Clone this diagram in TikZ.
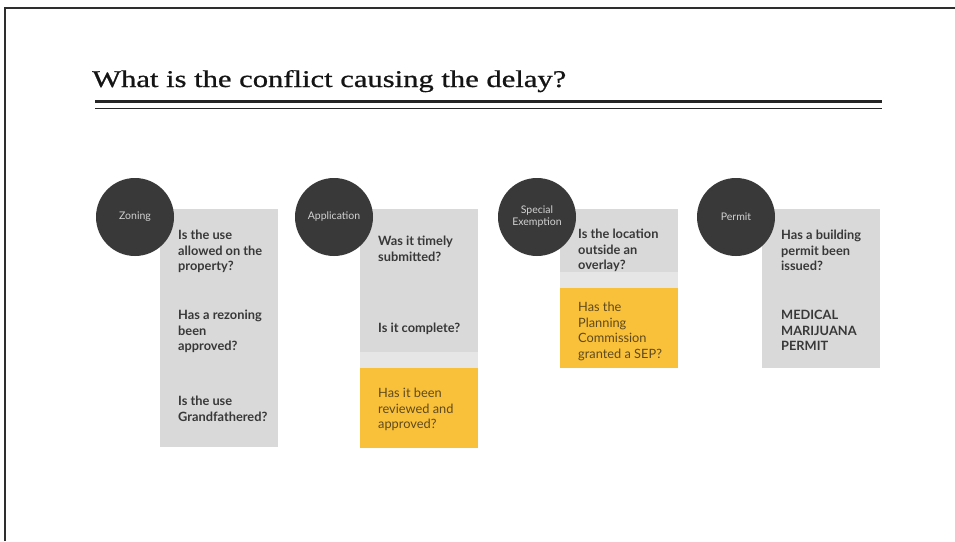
\documentclass[tikz,border=0pt]{standalone}
\usepackage{fontspec}
\usepackage{graphicx}
\setmainfont{Liberation Serif}
\newfontfamily\titlefont[FakeBold=0.7]{Liberation Serif}
\newfontfamily\qfont{Lato}
\definecolor{framegray}{HTML}{2E2E2E}
\definecolor{circfill}{HTML}{393939}
\definecolor{circtext}{HTML}{D2D2D2}
\definecolor{boxgray}{HTML}{D9D9D9}
\definecolor{bandgray}{HTML}{E6E6E6}
\definecolor{boxyellow}{HTML}{F9C03A}
\definecolor{qdark}{HTML}{383838}
\definecolor{ybrown}{HTML}{5E4A1E}
\tikzset{
  stagecirc/.style={circle, fill=circfill, minimum size=78pt, inner sep=0pt,
    text=circtext, align=center, font=\qfont\fontsize{10.5}{12}\selectfont},
  panel/.style={rectangle, anchor=north west, inner sep=0pt, outer sep=0pt,
    minimum width=118pt},
  graypanel/.style={panel, fill=boxgray},
  bandpanel/.style={panel, fill=bandgray},
  yellowpanel/.style={panel, fill=boxyellow},
  qtext/.style={anchor=north west, inner sep=0pt, align=left, text=qdark,
    font=\qfont\bfseries\fontsize{12.8}{15.5}\selectfont},
  ytext/.style={anchor=north west, inner sep=0pt, align=left, text=ybrown,
    font=\qfont\fontsize{12.8}{15.5}\selectfont}
}
\begin{document}
\begin{tikzpicture}[x=1pt,y=-1pt]
\useasboundingbox (0,0) rectangle (955,541);
\fill[white] (0,0) rectangle (955,541);

% slide frame
\draw[framegray, line width=1.5pt] (5,541) -- (5,8) -- (955,8);

% heading and its double rule
\node[anchor=base west, inner sep=0pt, text=black!92,
  font=\titlefont\fontsize{24}{28}\selectfont] (title) at (92,87)
  {\resizebox{474pt}{\height}{What is the conflict causing the delay?}};
\draw[black!85, line width=3pt] (95,101.5) -- (882,101.5);
\draw[black!85, line width=1pt] (95,108.5) -- (882,108.5);

% Zoning
\node[graypanel, minimum height=238pt] (zbox) at (160,209) {};
\node[stagecirc] (zcirc) at (135,217) {Zoning};
\node[qtext] (z1) at (178,230) {Is the use\\allowed on the\\property?};
\node[qtext] (z2) at (178,310) {Has a rezoning\\been\\approved?};
\node[qtext] (z3) at (178,396) {Is the use\\Grandfathered?};

% Application
\node[graypanel, minimum height=143pt] (abox) at (360,209) {};
\node[bandpanel, minimum height=16pt] (aband) at (360,352) {};
\node[yellowpanel, minimum height=80pt] (ayel) at (360,368) {};
\node[stagecirc] (acirc) at (334,217) {Application};
\node[qtext] (a1) at (378,236) {Was it timely\\submitted?};
\node[qtext] (a2) at (378,323) {Is it complete?};
\node[ytext] (a3) at (378,388) {Has it been\\reviewed and\\approved?};

% Special Exemption
\node[graypanel, minimum height=63pt] (sbox) at (560,209) {};
\node[bandpanel, minimum height=16pt] (sband) at (560,272) {};
\node[yellowpanel, minimum height=80pt] (syel) at (560,288) {};
\node[stagecirc] (scirc) at (537,217) {Special\\Exemption};
\node[qtext] (s1) at (578,229) {Is the location\\outside an\\overlay?};
\node[ytext] (s2) at (578,302) {Has the\\Planning\\Commission\\granted a SEP?};

% Permit
\node[graypanel, minimum height=159pt] (pbox) at (762,209) {};
\node[stagecirc] (pcirc) at (736,217) {Permit};
\node[qtext] (p1) at (781,230) {Has a building\\permit been\\issued?};
\node[qtext] (p2) at (781,310) {MEDICAL\\MARIJUANA\\PERMIT};
\end{tikzpicture}
\end{document}
